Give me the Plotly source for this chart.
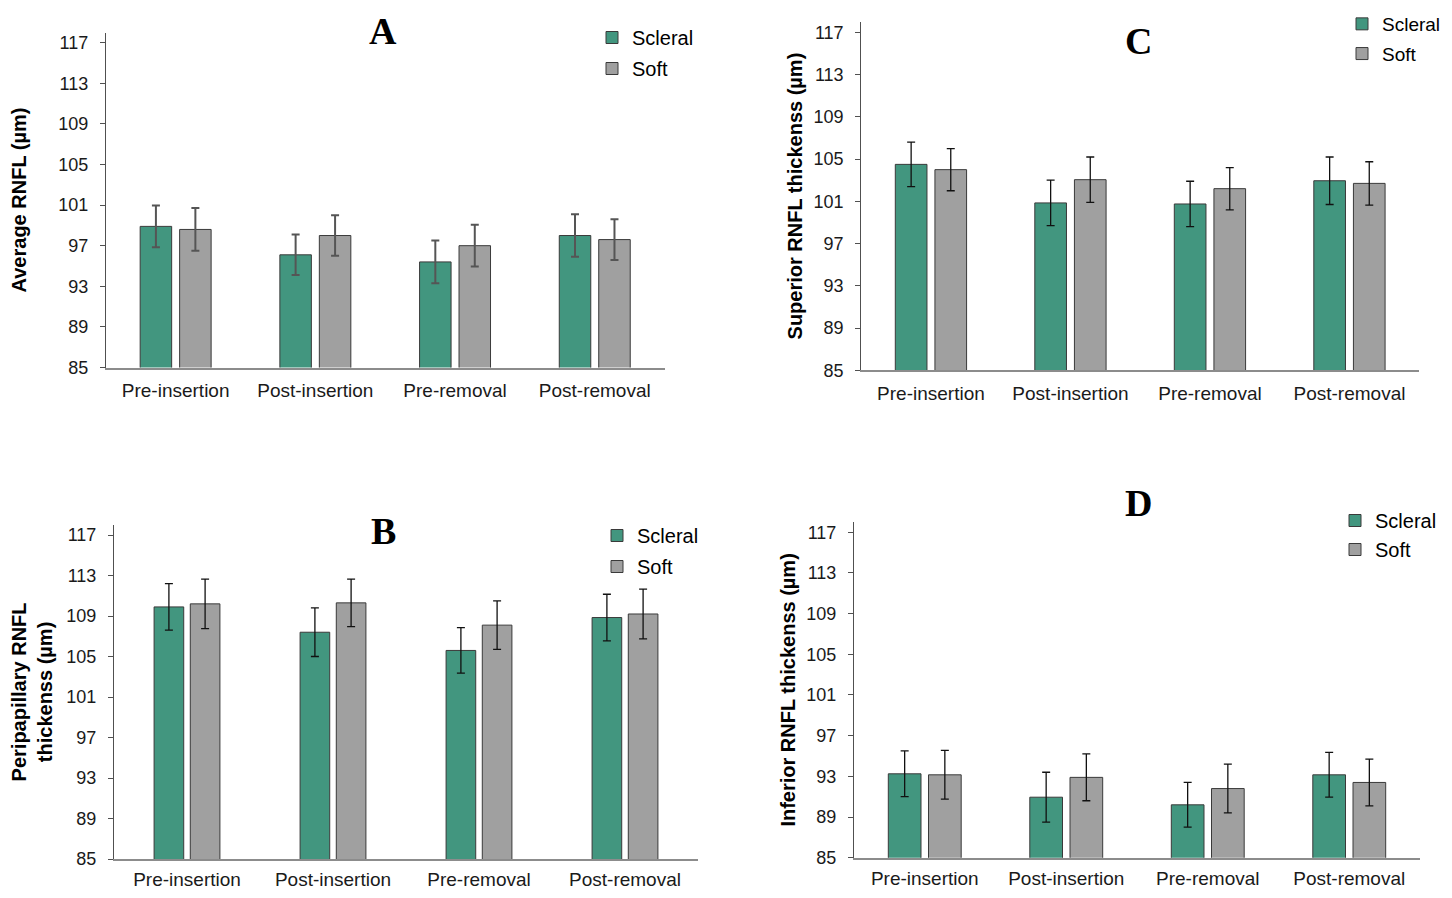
import plotly.graph_objects as go

# the html page puts the plot 8px in from the top-left corner,
# so the figure is drawn smaller and every pixel position is shifted back by 8
PAGE_W, PAGE_H = 1452, 898
OFF = 8
W, H = PAGE_W - 2 * OFF, PAGE_H - 2 * OFF

categories = ["Pre-insertion", "Post-insertion", "Pre-removal", "Post-removal"]
tick_vals = [85, 89, 93, 97, 101, 105, 109, 113, 117]

# panel A - average RNFL
a_scleral = [98.9, 96.1, 95.4, 98.0]
a_scleral_err = [2.05, 2.0, 2.1, 2.1]
a_soft = [98.6, 98.0, 97.0, 97.6]
a_soft_err = [2.1, 2.0, 2.05, 2.0]

# panel B - peripapillary RNFL
b_scleral = [109.9, 107.4, 105.6, 108.85]
b_scleral_err = [2.3, 2.4, 2.25, 2.3]
b_soft = [110.2, 110.3, 108.1, 109.2]
b_soft_err = [2.45, 2.35, 2.4, 2.45]

# panel C - superior RNFL
c_scleral = [104.5, 100.85, 100.75, 102.95]
c_scleral_err = [2.1, 2.15, 2.15, 2.25]
c_soft = [104.0, 103.05, 102.2, 102.7]
c_soft_err = [2.0, 2.15, 2.0, 2.05]

# panel D - inferior RNFL
d_scleral = [93.25, 90.95, 90.2, 93.15]
d_scleral_err = [2.25, 2.45, 2.2, 2.2]
d_soft = [93.15, 92.9, 91.8, 92.4]
d_soft_err = [2.4, 2.3, 2.4, 2.3]

GREEN = "#42967f"
GREY = "#a0a0a0"
FONT = "Liberation Sans, Arial, sans-serif"


def px_x(x):
    return (x - OFF) / W


def px_y(y):
    return 1 - (y - OFF) / H


# pixel layout of each panel (x0, x1, ybottom, ytop), bar width / gap in category units
panels = [
    dict(name="A", sc=a_scleral, sce=a_scleral_err, so=a_soft, soe=a_soft_err,
         px=(105.8, 664.6, 367.5, 32.5), w=0.2255, gap=0.057, ecol="#555555", eth=2,
         ytitle="Average RNFL (µm)", standoff=26, label=(383, 31), leg=(612, 38),
         lgap=2, lsize=20, xstand=5),
    dict(name="C", sc=c_scleral, sce=c_scleral_err, so=c_soft, soe=c_soft_err,
         px=(861.2, 1419.2, 370.3, 21.8), w=0.227, gap=0.057, ecol="#111111", eth=1.3,
         ytitle="Superior RNFL thickenss (µm)", standoff=5, label=(1138, 41), leg=(1362, 25),
         lgap=2, lsize=19, xstand=5),
    dict(name="B", sc=b_scleral, sce=b_scleral_err, so=b_soft, soe=b_soft_err,
         px=(114, 698, 859, 524.9), w=0.203, gap=0.045, ecol="#111111", eth=1.3,
         ytitle="Peripapillary RNFL<br>thickenss (µm)", standoff=10, label=(383, 531), leg=(617, 536),
         lgap=2, lsize=20, xstand=2),
    dict(name="D", sc=d_scleral, sce=d_scleral_err, so=d_soft, soe=d_soft_err,
         px=(854, 1420, 857.7, 522.1), w=0.231, gap=0.053, ecol="#111111", eth=1.3,
         ytitle="Inferior RNFL thickenss (µm)", standoff=5, label=(1138, 503), leg=(1355, 521),
         lgap=0, lsize=20, xstand=3),
]

fig = go.Figure()
layout = dict(
    width=W, height=H,
    margin=dict(l=0, r=0, t=0, b=0, autoexpand=False),
    paper_bgcolor="white", plot_bgcolor="white",
    barmode="overlay",
    showlegend=True,
    annotations=[],
)

for i, p in enumerate(panels):
    n = "" if i == 0 else str(i + 1)
    xa, ya = "x" + n, "y" + n
    leg = "legend" + n
    x0, x1, yb, yt = p["px"]
    for label, vals, errs, col, off in [
        ("Scleral", p["sc"], p["sce"], GREEN, -(p["w"] + p["gap"] / 2)),
        ("Soft", p["so"], p["soe"], GREY, p["gap"] / 2),
    ]:
        fig.add_trace(go.Bar(
            x=categories, y=vals, name=label,
            xaxis=xa, yaxis=ya, legend=leg, legendgroup=label + n,
            width=p["w"], offset=off,
            marker=dict(color=col, line=dict(color="#3a3a3a", width=1)),
            error_y=dict(type="data", array=errs, visible=True,
                         color=p["ecol"], thickness=p["eth"], width=4),
        ))

    layout["xaxis" + n] = dict(
        domain=[px_x(x0), px_x(x1)], anchor=ya,
        showline=True, linecolor="#8c8c8c", linewidth=1.5,
        ticks="", showgrid=False, zeroline=False,
        tickfont=dict(family=FONT, size=19, color="#1a1a1a"),
        ticklabelstandoff=p["xstand"], fixedrange=True,
    )
    layout["yaxis" + n] = dict(
        domain=[px_y(yb), px_y(yt)], anchor=xa,
        range=[85, 118], tickvals=tick_vals,
        showline=True, linecolor="#505050", linewidth=1,
        ticks="outside", ticklen=5, tickcolor="#505050",
        showgrid=False, zeroline=False,
        tickfont=dict(family=FONT, size=18, color="#1a1a1a"),
        ticklabelstandoff=8,
        title=dict(text=p["ytitle"], standoff=p["standoff"],
                   font=dict(family=FONT, size=20, color="black", weight="bold")),
    )
    # legend placed from the centre of its first symbol
    lx, ly = p["leg"]
    layout[leg] = dict(
        x=px_x(lx - 20), y=px_y(ly - 20), xanchor="left", yanchor="top",
        font=dict(family=FONT, size=p["lsize"], color="black"),
        bgcolor="rgba(0,0,0,0)", tracegroupgap=p["lgap"], itemclick=False,
    )
    cx, cy = p["label"]
    layout["annotations"].append(dict(
        text="<b>%s</b>" % p["name"], x=px_x(cx), y=px_y(cy),
        xref="paper", yref="paper", xanchor="center", yanchor="middle",
        showarrow=False,
        font=dict(family="Liberation Serif, Times New Roman, serif", size=38, color="black"),
    ))

fig.update_layout(**layout)
fig.write_html("out.html")
